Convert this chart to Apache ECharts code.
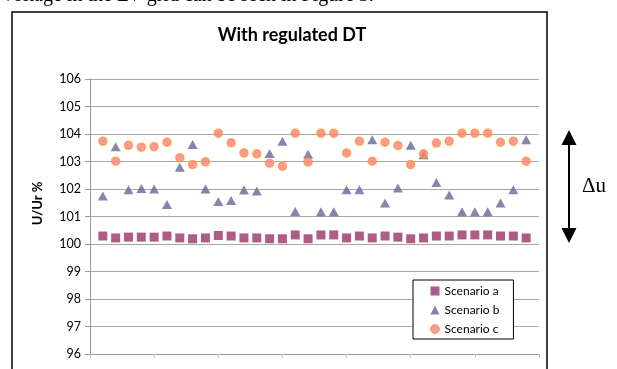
<!DOCTYPE html>
<html>
<head>
<meta charset="utf-8">
<script src="https://cdn.jsdelivr.net/npm/echarts@6/dist/echarts.min.js"></script>
<style>
html,body{margin:0;padding:0;background:#fff;}
#chart{width:617px;height:369px;}
</style>
</head>
<body>
<div id="chart"></div>
<script>
// ---- data ----
var pointIndex = [1,2,3,4,5,6,7,8,9,10,11,12,13,14,15,16,17,18,19,20,21,22,23,24,25,26,27,28,29,30,31,32,33,34];
var scenarioA = [100.29,100.22,100.25,100.25,100.25,100.29,100.22,100.19,100.22,100.31,100.29,100.22,100.22,100.19,100.19,100.33,100.19,100.33,100.33,100.22,100.29,100.22,100.29,100.25,100.19,100.22,100.29,100.29,100.33,100.33,100.33,100.29,100.29,100.22];
var scenarioB = [101.75,103.54,101.97,102.02,102.00,101.44,102.79,103.62,102.00,101.55,101.58,101.96,101.93,103.29,103.74,101.18,103.26,101.17,101.17,101.97,101.97,103.79,101.49,102.04,103.59,103.25,102.24,101.78,101.17,101.17,101.17,101.49,101.97,103.79];
var scenarioC = [103.74,103.01,103.59,103.52,103.54,103.70,103.14,102.89,102.99,104.03,103.68,103.31,103.28,102.94,102.83,104.03,102.98,104.03,104.03,103.31,103.74,103.01,103.70,103.58,102.89,103.28,103.67,103.74,104.03,104.03,104.03,103.70,103.74,103.01];
var seriesNames = ['Scenario a','Scenario b','Scenario c'];
var yTicks = [96,97,98,99,100,101,102,103,104,105,106];
var titleText = 'With regulated DT';
var yAxisTitle = 'U/Ur %';
var headerText = 'voltage in the LV grid can be seen in Figure 3.';
var deltaLabel = '\u0394u';

function pairs(vals){ return vals.map(function(v,i){ return [pointIndex[i], v]; }); }

var FONT = 'Lato, "Liberation Sans", sans-serif';
var chart = echarts.init(document.getElementById('chart'), null, {renderer:'canvas'});
chart.setOption({
  backgroundColor:'#ffffff',
  animation:false,
  title:{
    text:titleText, left:287, top:21, textAlign:'center',
    textStyle:{fontFamily:FONT, fontWeight:'bold', fontSize:18, color:'#000'}
  },
  grid:{left:90, right:78, top:79, bottom:15, containLabel:false},
  legend:{
    orient:'vertical', left:413, top:280,
    padding:[5,14,4,17], itemGap:7, itemWidth:9, itemHeight:9,
    backgroundColor:'#fff', borderColor:'#000', borderWidth:1,
    textStyle:{fontFamily:FONT, fontSize:12, color:'#000'},
    data:[
      {name:seriesNames[0]},
      {name:seriesNames[1]},
      {name:seriesNames[2], itemStyle:{borderWidth:1}}
    ]
  },
  xAxis:{
    type:'value', min:0, max:35, interval:5,
    axisLine:{show:true, lineStyle:{color:'#9a9a9a', width:1}},
    axisTick:{show:true, length:4, lineStyle:{color:'#c8c8c8'}},
    axisLabel:{show:false},
    splitLine:{show:false}
  },
  yAxis:{
    type:'value', min:yTicks[0], max:yTicks[yTicks.length-1], interval:1,
    name:yAxisTitle, nameLocation:'middle', nameGap:46,
    nameTextStyle:{fontFamily:FONT, fontWeight:'bold', fontSize:13, color:'#000', padding:[0,0,0,26]},
    axisLine:{show:true, lineStyle:{color:'#9a9a9a', width:1}},
    axisTick:{show:true, length:5, lineStyle:{color:'#9a9a9a'}},
    axisLabel:{fontFamily:FONT, fontSize:12.5, color:'#000', margin:9},
    splitLine:{show:true, lineStyle:{color:'#a6a6a6', width:1}}
  },
  series:[
    {name:seriesNames[0], type:'scatter', symbol:'rect', symbolSize:9,
     itemStyle:{color:'#993366'}, data:pairs(scenarioA), z:3},
    {name:seriesNames[1], type:'scatter', symbol:'triangle', symbolSize:[10,9],
     itemStyle:{color:'#666699'}, data:pairs(scenarioB), z:4},
    {name:seriesNames[2], type:'scatter', symbol:'circle', symbolSize:8,
     itemStyle:{color:'#ff8080', borderColor:'#ff9933', borderWidth:1.5}, data:pairs(scenarioC), z:5}
  ],
  graphic:[
    {type:'text', left:3, top:-14, z:10,
     style:{text:headerText, fontFamily:'"Liberation Serif", "DejaVu Serif", serif', fontSize:20, fill:'#000'}},
    {type:'rect', shape:{x:12, y:12, width:535, height:400}, z:-1,
     style:{fill:'none', stroke:'#000', lineWidth:1.5}},
    {type:'line', shape:{x1:569, y1:142, x2:569, y2:231}, style:{stroke:'#000', lineWidth:2}},
    {type:'polygon', shape:{points:[[569,130],[561.5,145],[576.5,145]]}, style:{fill:'#000'}},
    {type:'polygon', shape:{points:[[569,243],[561.5,228],[576.5,228]]}, style:{fill:'#000'}},
    {type:'text', x:582, y:176, style:{text:deltaLabel, fontFamily:'"Liberation Serif", "DejaVu Serif", serif', fontSize:21, fill:'#000'}}
  ]
});
</script>
</body>
</html>
